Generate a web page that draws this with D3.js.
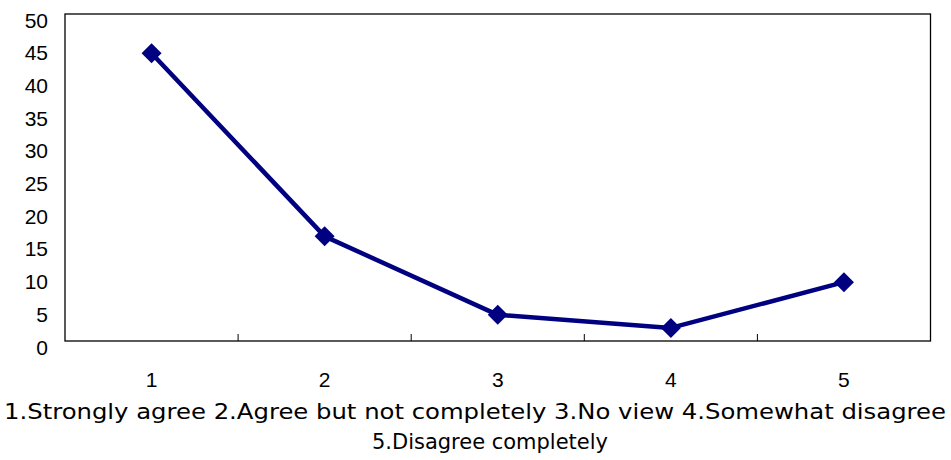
<!DOCTYPE html>
<html><head><meta charset="utf-8">
<script src="https://cdn.jsdelivr.net/npm/d3@7"></script>
<style>body{margin:0;background:#fff}svg{display:block}</style>
</head><body>
<svg id="c" width="951" height="460"></svg>
<script>
const categories = ["1","2","3","4","5"];
const values = [44, 16, 4, 2, 9];
const yTicks = [0,5,10,15,20,25,30,35,40,45,50];
const footer1 = "1.Strongly agree 2.Agree but not completely 3.No view 4.Somewhat disagree";
const footer2 = "5.Disagree completely";

const svg = d3.select("#c");
const L = 65, R = 930.5, T = 14, B = 341;
const x = d3.scaleBand().domain(categories).range([L, R]).padding(0);
const y = d3.scaleLinear().domain([0, 50]).range([B, T]);

// frame
svg.append("rect").attr("x", L).attr("y", T).attr("width", R - L).attr("height", B - T)
  .attr("fill", "none").attr("stroke", "#000").attr("stroke-width", 1.3);

// y labels
svg.append("g").selectAll("text").data(yTicks).join("text")
  .attr("x", 48).attr("y", d => y(d) + 13.5)
  .attr("text-anchor", "end").attr("font-family", "Liberation Sans, Arial, sans-serif")
  .attr("font-size", 21).attr("fill", "#000").text(d => d);

// x ticks (inward) at category boundaries
const bounds = categories.slice(1).map(c => x(c));
svg.append("g").selectAll("line").data(bounds).join("line")
  .attr("x1", d => d).attr("x2", d => d).attr("y1", B).attr("y2", B - 7)
  .attr("stroke", "#000").attr("stroke-width", 1);

// x labels
svg.append("g").selectAll("text").data(categories).join("text")
  .attr("x", d => x(d) + x.bandwidth() / 2).attr("y", 387)
  .attr("text-anchor", "middle").attr("font-family", "Liberation Sans, Arial, sans-serif")
  .attr("font-size", 21).attr("fill", "#000").text(d => d);

// line
const pts = categories.map((c, i) => [x(c) + x.bandwidth() / 2, y(values[i])]);
svg.append("path").attr("d", d3.line()(pts)).attr("fill", "none")
  .attr("stroke", "#000080").attr("stroke-width", 4.5).attr("stroke-linejoin", "round");

// markers
const diamond = d3.symbol().type(d3.symbolSquare).size(200);
svg.append("g").selectAll("path").data(pts).join("path")
  .attr("d", diamond).attr("transform", d => `translate(${d[0]},${d[1]}) rotate(45)`)
  .attr("fill", "#000080");

// footer
svg.append("text").attr("x", 4).attr("y", 419).attr("textLength", 942).attr("lengthAdjust", "spacingAndGlyphs")
  .attr("font-family", "DejaVu Sans, Verdana, sans-serif").attr("font-size", 21).attr("fill", "#000").text(footer1);
svg.append("text").attr("x", 372).attr("y", 449).attr("textLength", 236).attr("lengthAdjust", "spacingAndGlyphs")
  .attr("font-family", "DejaVu Sans, Verdana, sans-serif").attr("font-size", 21).attr("fill", "#000").text(footer2);
</script>
</body></html>
